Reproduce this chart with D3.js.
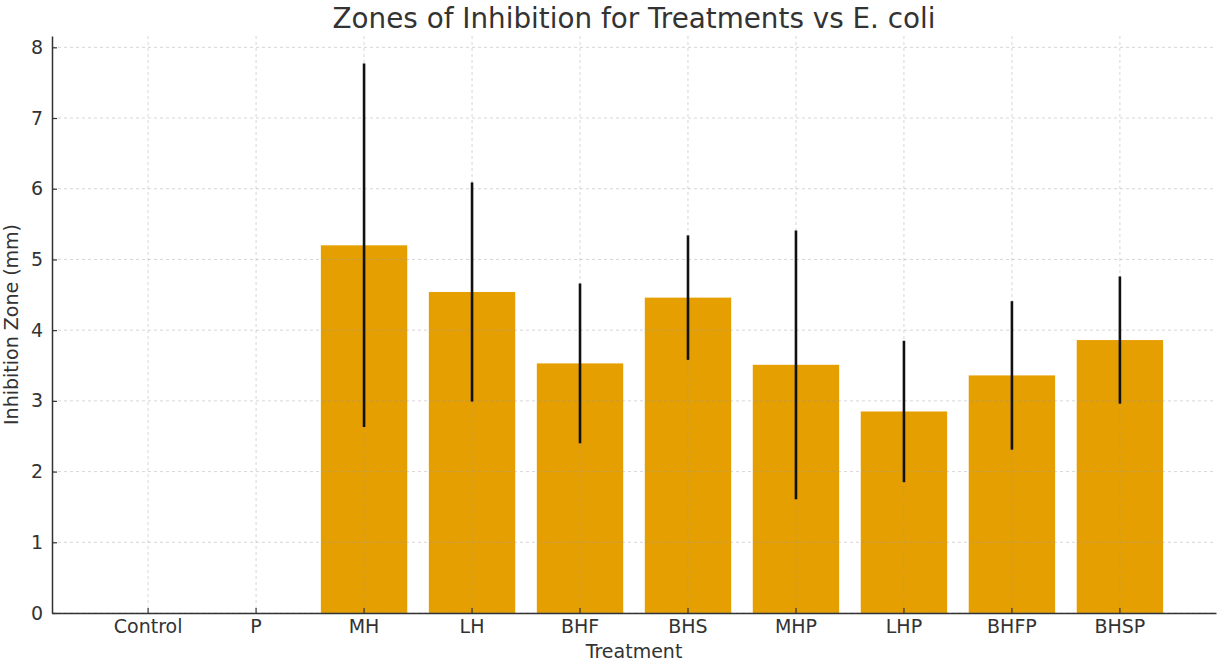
<!DOCTYPE html>
<html>
<head>
<meta charset="utf-8">
<script src="https://cdn.jsdelivr.net/npm/d3@7"></script>
<style>
  body { margin: 0; background: #fff; }
  text { font-family: "DejaVu Sans", sans-serif; fill: #333; }
</style>
</head>
<body>
<script>
// chart data
var treatments = ["Control", "P", "MH", "LH", "BHF", "BHS", "MHP", "LHP", "BHFP", "BHSP"];
var means = [0, 0, 5.2, 4.54, 3.53, 4.46, 3.51, 2.85, 3.36, 3.86];
var errors = [0, 0, 2.57, 1.55, 1.13, 0.88, 1.9, 1.0, 1.05, 0.9];
var yTicks = [0, 1, 2, 3, 4, 5, 6, 7, 8];

// dimensions
var W = 1217, H = 664;
var margin = { top: 36, right: 1, bottom: 51, left: 52 };

var svg = d3.select("body").append("svg")
    .attr("width", W)
    .attr("height", H);

// scales
var x = d3.scaleBand()
    .domain(treatments)
    .range([margin.left, W - margin.right])
    .paddingInner(0.2)
    .paddingOuter(0.49);

var y = d3.scaleLinear()
    .domain([0, 8.16])
    .range([H - margin.bottom, margin.top]);

var data = treatments.map(function (t, i) {
    return { name: t, value: means[i], err: errors[i] };
});

// bars
svg.append("g").selectAll("rect")
    .data(data)
    .enter().append("rect")
    .attr("x", function (d) { return x(d.name); })
    .attr("y", function (d) { return y(d.value); })
    .attr("width", x.bandwidth())
    .attr("height", function (d) { return y(0) - y(d.value); })
    .attr("fill", "#E69F00");

// grid (drawn over the bars, faint)
var grid = svg.append("g")
    .attr("stroke", "#999")
    .attr("stroke-opacity", 0.45)
    .attr("stroke-width", 0.9)
    .attr("stroke-dasharray", "3,3");

grid.selectAll(".gy")
    .data(yTicks)
    .enter().append("line")
    .attr("x1", margin.left)
    .attr("x2", W - margin.right)
    .attr("y1", function (d) { return y(d); })
    .attr("y2", function (d) { return y(d); });

grid.selectAll(".gx")
    .data(treatments)
    .enter().append("line")
    .attr("x1", function (d) { return x(d) + x.bandwidth() / 2; })
    .attr("x2", function (d) { return x(d) + x.bandwidth() / 2; })
    .attr("y1", margin.top)
    .attr("y2", H - margin.bottom);

// error bars
svg.append("g").selectAll("line")
    .data(data.filter(function (d) { return d.err > 0; }))
    .enter().append("line")
    .attr("x1", function (d) { return x(d.name) + x.bandwidth() / 2; })
    .attr("x2", function (d) { return x(d.name) + x.bandwidth() / 2; })
    .attr("y1", function (d) { return y(d.value + d.err); })
    .attr("y2", function (d) { return y(d.value - d.err); })
    .attr("stroke", "#111")
    .attr("stroke-width", 2.6);

// axes
var xAxis = svg.append("g")
    .attr("transform", "translate(0," + (H - margin.bottom) + ")")
    .call(d3.axisBottom(x).tickSizeInner(-5).tickSizeOuter(0).tickPadding(7));

var yAxis = svg.append("g")
    .attr("transform", "translate(" + margin.left + ",0)")
    .call(d3.axisLeft(y).tickValues(yTicks).tickSizeInner(-5).tickSizeOuter(0).tickPadding(9));

[xAxis, yAxis].forEach(function (a) {
    a.selectAll("text").style("font-size", "19px").attr("fill", "#333");
    a.select(".domain").attr("stroke", "#333").attr("stroke-width", 1.5);
    a.selectAll(".tick line").attr("stroke", "#333").attr("stroke-width", 1.2);
    a.attr("font-family", null);
});

// labels
svg.append("text")
    .attr("x", (margin.left + W - margin.right) / 2)
    .attr("y", 28)
    .attr("text-anchor", "middle")
    .style("font-size", "27.8px")
    .text("Zones of Inhibition for Treatments vs E. coli");

svg.append("text")
    .attr("x", (margin.left + W - margin.right) / 2)
    .attr("y", 658)
    .attr("text-anchor", "middle")
    .style("font-size", "19px")
    .text("Treatment");

svg.append("text")
    .attr("transform", "translate(18," + (y(0) + y(8.16)) / 2 + ") rotate(-90)")
    .attr("text-anchor", "middle")
    .style("font-size", "19px")
    .text("Inhibition Zone (mm)");
</script>
</body>
</html>
